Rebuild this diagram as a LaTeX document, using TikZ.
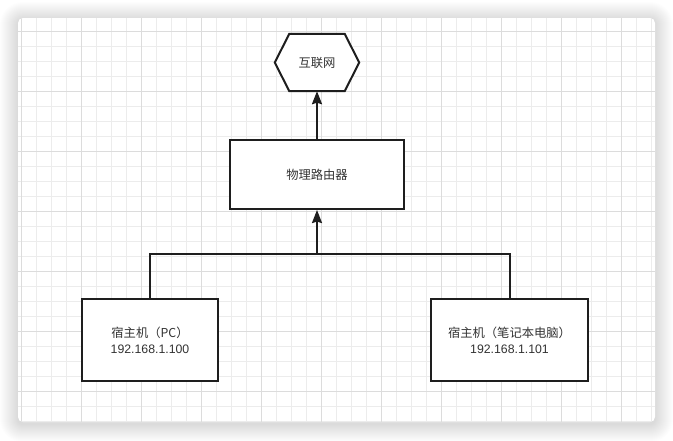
\documentclass[tikz,border=0pt]{standalone}
\usepackage{fontspec}
\setmainfont{Liberation Sans}
\newfontfamily\cjk{Noto Sans CJK SC}
\usetikzlibrary{arrows.meta,calc}
\definecolor{linec}{HTML}{1E1E1E}
\definecolor{textc}{HTML}{333333}
\definecolor{gridminor}{HTML}{ECECEC}
\definecolor{gridmajor}{HTML}{DCDCDC}
\tikzset{
  box/.style={draw=linec, line width=2pt, fill=white, text=textc, align=center,
    font=\fontsize{12.3}{16}\selectfont, inner sep=0pt},
  hexnode/.style={draw=none, text=textc, font=\fontsize{12.3}{16}\selectfont, inner sep=0pt,
    minimum width=84pt, minimum height=57pt},
  conn/.style={draw=linec, line width=2pt},
  arr/.style={conn, -{Stealth[length=13pt,width=10pt,inset=1.5pt]}},
}
\begin{document}
\begin{tikzpicture}[x=1pt,y=-1pt]
\useasboundingbox (0,0) rectangle (673,440);
\fill[white] (0,0) rectangle (673,440);
% shadow
\foreach \i in {1,...,18}{
  \fill[black, opacity=0.009, rounded corners={5pt+\i pt}] (18-\i,18-\i+2) rectangle (655+\i,422+\i+2);
}
% card
\fill[white, rounded corners=5pt] (18,18) rectangle (655,422);
\begin{scope}
\clip[rounded corners=5pt] (18,18) rectangle (655,422);
\foreach \x in {21.3,36.3,...,655}{ \draw[gridminor, line width=1pt] (\x,18) -- (\x,422); }
\foreach \y in {16.3,31.3,...,422}{ \draw[gridminor, line width=1pt] (18,\y) -- (655,\y); }
\foreach \x in {21.3,81.3,...,655}{ \draw[gridmajor, line width=1pt] (\x,18) -- (\x,422); }
\foreach \y in {31.3,91.3,...,422}{ \draw[gridmajor, line width=1pt] (18,\y) -- (655,\y); }
\end{scope}
% nodes
\node[hexnode] (inet) at (317,62.5) {};
\fill[white] (inet.west) -- ($(inet.north west)+(14.5,0)$) -- ($(inet.north east)+(-14.5,0)$) -- (inet.east) -- ($(inet.south east)+(-14.5,0)$) -- ($(inet.south west)+(14.5,0)$) -- cycle;
\draw[conn, line join=miter] (inet.west) -- ($(inet.north west)+(14.5,0)$) -- ($(inet.north east)+(-14.5,0)$) -- (inet.east) -- ($(inet.south east)+(-14.5,0)$) -- ($(inet.south west)+(14.5,0)$) -- cycle;
\node[hexnode] (inetlabel) at (inet.center) {\cjk 互联网};
\node[box, minimum width=174pt, minimum height=69pt] (router) at (317,174.5) {\cjk 物理路由器};
\node[box, minimum width=136pt, minimum height=82pt] (pc) at (150,340) {{\cjk 宿主机（PC）}\\192.168.1.100};
\node[box, minimum width=157pt, minimum height=82pt] (lap) at (509.5,340) {{\cjk 宿主机（笔记本电脑）}\\192.168.1.101};
% connectors
\coordinate (j) at (317,254.3);
\draw[conn] (pc.north) |- (j) -| (lap.north);
\draw[arr] (j) -- (router.south);
\draw[arr] (router.north) -- (inet.south);
\end{tikzpicture}
\end{document}
